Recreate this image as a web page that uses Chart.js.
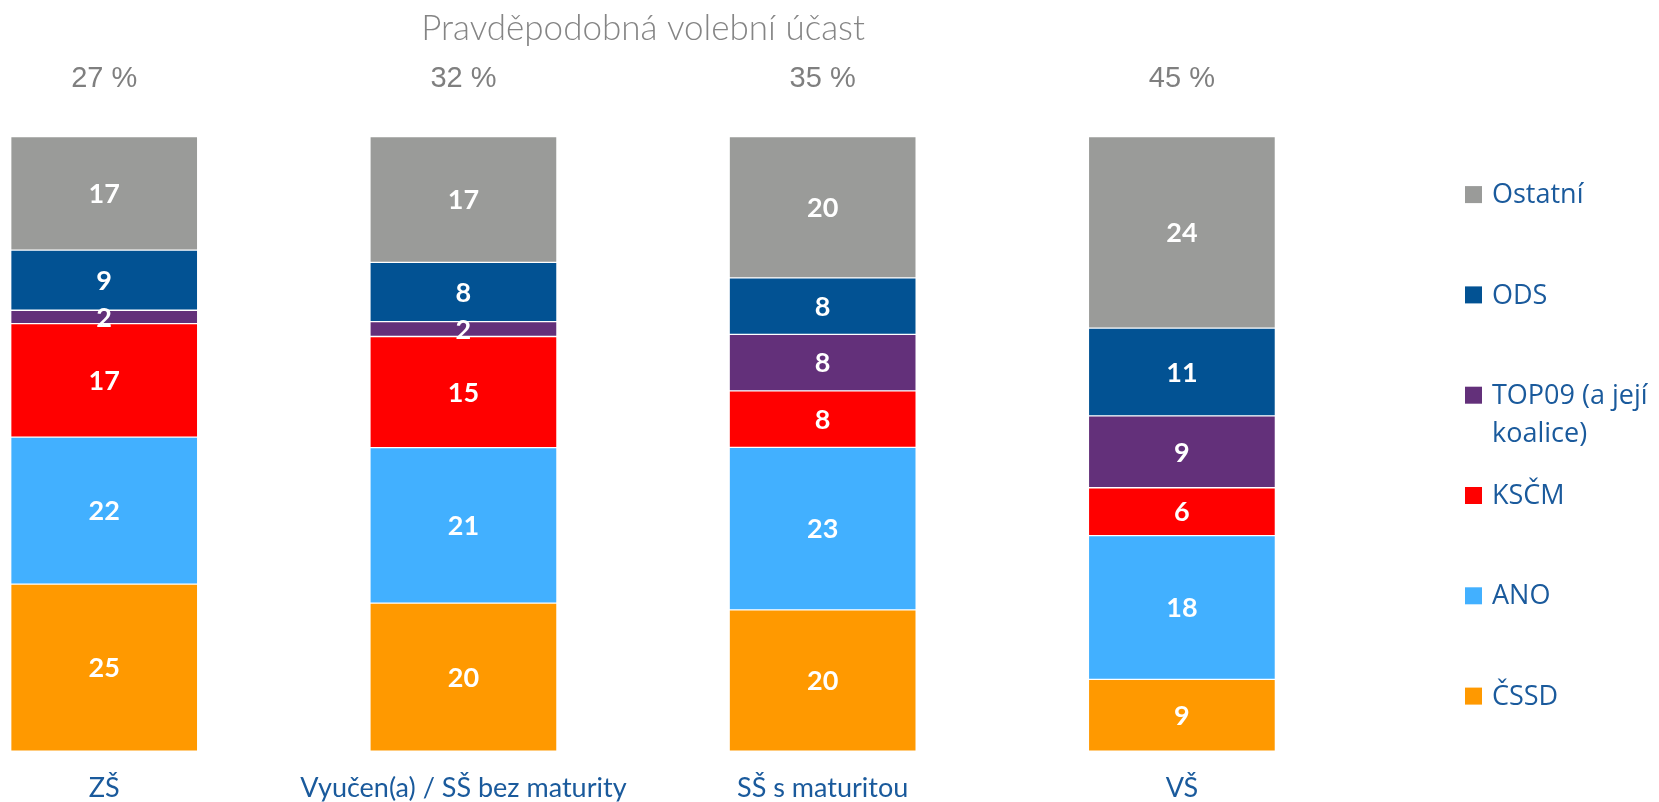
<!DOCTYPE html>
<html>
<head>
<meta charset="utf-8">
<script src="https://cdn.jsdelivr.net/npm/chart.js@4.4.1/dist/chart.umd.min.js"></script>
<style>
html,body{margin:0;padding:0;background:#ffffff;}
#wrap{width:1659px;height:802px;position:relative;}
</style>
</head>
<body>
<div id="wrap"><canvas id="c"></canvas></div>
<script>
// ---- data ----
const categories = ["ZŠ", "Vyučen(a) / SŠ bez maturity", "SŠ s maturitou", "VŠ"];
const turnoutLabels = ["27 %", "32 %", "35 %", "45 %"];
const chartTitle = "Pravděpodobná volební účast";
const seriesNames = ["ČSSD", "ANO", "KSČM", "TOP09 (a její koalice)", "ODS", "Ostatní"];
const cssd    = [25, 20, 20, 9];
const ano     = [22, 21, 23, 18];
const kscm    = [17, 15, 8, 6];
const top09   = [2, 2, 8, 9];
const ods     = [9, 8, 8, 11];
const ostatni = [17, 17, 20, 24];
const seriesColors = ["#ff9900", "#42b0ff", "#ff0000", "#63307a", "#025293", "#9a9b99"];

const seriesValues = [cssd, ano, kscm, top09, ods, ostatni];
const totals = categories.map((_, j) => seriesValues.reduce((s, arr) => s + arr[j], 0));

const datasets = seriesValues.map((vals, i) => ({
  label: seriesNames[i],
  raw: vals,
  data: vals.map((v, j) => v / totals[j] * 100),
  backgroundColor: seriesColors[i],
  borderColor: 'rgba(255,255,255,0.35)',
  borderWidth: 1,
  borderSkipped: false,
  barThickness: 187,
  clip: false,
  xAxisID: 'x',
  yAxisID: 'y'
}));

const BLUE = '#1a5a9c';

const overlay = {
  id: 'overlay',
  afterDraw(chart) {
    const ctx = chart.ctx;
    // value labels
    ctx.save();
    ctx.font = 'bold 27px Lato, "Open Sans", sans-serif';
    ctx.fillStyle = '#ffffff';
    ctx.textAlign = 'center';
    ctx.textBaseline = 'middle';
    chart.data.datasets.forEach((ds, i) => {
      const meta = chart.getDatasetMeta(i);
      meta.data.forEach((el, j) => {
        ctx.fillText(String(ds.raw[j]), el.x, (el.y + el.base) / 2 + 1);
      });
    });
    ctx.restore();
    // legend
    const dsList = chart.data.datasets.slice().reverse();
    const boxX = 1465, textX = 1492, y0 = 195.6, dy = 100.3, box = 17, lineGap = 38.3;
    const maxW = chart.width - textX - 4;
    ctx.save();
    ctx.font = '27px "Open Sans", sans-serif';
    ctx.textAlign = 'left';
    ctx.textBaseline = 'middle';
    dsList.forEach((ds, k) => {
      const y = y0 + k * dy;
      ctx.fillStyle = ds.backgroundColor;
      ctx.fillRect(boxX, y - box / 2 - 1, box, box);
      const words = ds.label.split(' ');
      const lines = [];
      let cur = '';
      words.forEach(w => {
        const test = cur ? cur + ' ' + w : w;
        if (cur && ctx.measureText(test).width > maxW) { lines.push(cur); cur = w; }
        else cur = test;
      });
      if (cur) lines.push(cur);
      ctx.fillStyle = BLUE;
      lines.forEach((ln, m) => ctx.fillText(ln, textX, y + m * lineGap));
    });
    ctx.restore();
  }
};

new Chart(document.getElementById('c'), {
  type: 'bar',
  data: { labels: categories, datasets },
  plugins: [overlay],
  options: {
    responsive: true,
    maintainAspectRatio: false,
    animation: false,
    events: [],
    clip: false,
    layout: { padding: { left: 104.2, right: 477.1, top: 0, bottom: 0.5 } },
    plugins: {
      legend: { display: false },
      tooltip: { enabled: false },
      title: { display: false }
    },
    scales: {
      x: {
        type: 'category',
        position: 'bottom',
        stacked: true,
        offset: false,
        grid: { display: true, drawOnChartArea: false, drawTicks: true, tickLength: 23.3, color: 'rgba(0,0,0,0)' },
        border: { display: false },
        ticks: { autoSkip: false, maxRotation: 0, minRotation: 0, padding: 0, color: BLUE,
                 font: { family: 'Lato, "Open Sans", sans-serif', size: 27, lineHeight: 1 } }
      },
      x2: {
        type: 'category',
        position: 'top',
        labels: turnoutLabels,
        offset: false,
        grid: { display: true, drawOnChartArea: false, drawTicks: true, tickLength: 40.3, color: 'rgba(0,0,0,0)' },
        border: { display: false },
        ticks: { autoSkip: false, maxRotation: 0, minRotation: 0, padding: 0, color: '#7f7f7f',
                 font: { family: '"Liberation Sans", Arial, sans-serif', size: 29, lineHeight: 1.2 } },
        title: { display: true, text: chartTitle, color: '#858585',
                 font: { family: 'Lato, "Open Sans", sans-serif', weight: 300, size: 35, lineHeight: 1.2 },
                 padding: { top: 7.5, bottom: 11.9 } }
      },
      y: {
        stacked: true,
        display: false,
        min: 0,
        max: 100
      }
    }
  }
});
</script>
</body>
</html>
